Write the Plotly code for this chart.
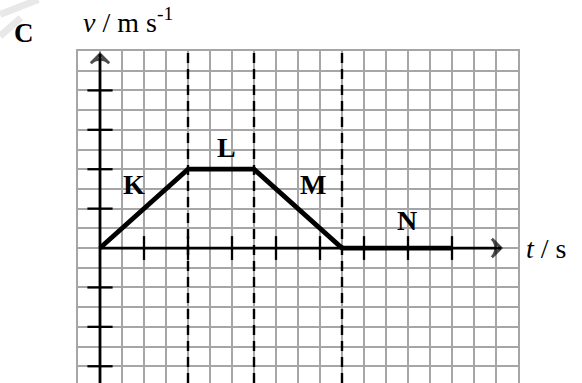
import plotly.graph_objects as go

# velocity-time graph: t and v in grid squares
t_pts = [0, 4, 7, 11, 16]
v_pts = [0, 4, 4, 0, 0]
phase_names = ['K', 'L', 'M', 'N']
phase_x = [1.55, 5.73, 9.66, 13.95]
phase_y = [3.25, 5.1, 3.2, 1.42]
x_ticks = [2, 4, 6, 8, 10, 12, 14, 16]
y_ticks = [-6, -4, -2, 2, 4, 6, 8]
boundaries = [4, 7, 11]
t_axis_end = 18.23
v_axis_ends = [-6.85, 9.85]

serif = 'Liberation Serif'
grid_col = '#a6a6a6'

fig = go.Figure()

# axes, arrow heads at the ends
fig.add_trace(go.Scatter(x=[0, t_axis_end], y=[0, 0], mode='lines+markers',
                         line=dict(color='black', width=2.8),
                         marker=dict(symbol='arrow-wide-open', size=[0, 13], angle=90,
                                     color='black', line=dict(color='black', width=2.8))))
fig.add_trace(go.Scatter(x=[0, 0], y=v_axis_ends, mode='lines+markers',
                         line=dict(color='black', width=2.8),
                         marker=dict(symbol='arrow-wide-open', size=[0, 13], angle=0,
                                     color='black', line=dict(color='black', width=2.8))))

# the v-t line
fig.add_trace(go.Scatter(x=t_pts, y=v_pts, mode='lines',
                         line=dict(color='black', width=4.8), hoverinfo='skip'))

# tick marks on the axes
fig.add_trace(go.Scatter(x=x_ticks, y=[0] * len(x_ticks), mode='markers',
                         marker=dict(symbol='line-ns', size=17, line=dict(color='black', width=2.3))))
fig.add_trace(go.Scatter(x=[0] * len(y_ticks), y=y_ticks, mode='markers',
                         marker=dict(symbol='line-ew', size=18, line=dict(color='black', width=2.3))))

# dashed lines between stages
for b in boundaries:
    fig.add_vline(x=b, line=dict(color='black', width=2.4, dash='10px,6px'))

# stage labels
for name, px, py in zip(phase_names, phase_x, phase_y):
    fig.add_annotation(x=px, y=py, text='<b>%s</b>' % name, showarrow=False,
                       xanchor='center', yanchor='middle',
                       font=dict(family=serif, size=28, color='black'))

# axis titles and panel letter
fig.add_annotation(x=0.006, y=1.093, xref='paper', yref='paper',
                   xanchor='left', yanchor='middle',
                   text='<i>v</i> / m s<sup>-1</sup>', showarrow=False,
                   font=dict(family=serif, size=28, color='black'))
fig.add_annotation(x=1.014, y=0, xref='paper', yref='y',
                   xanchor='left', yanchor='middle',
                   text='<i>t</i> / s', showarrow=False,
                   font=dict(family=serif, size=28, color='black'))
fig.add_annotation(x=-0.15, y=1.054, xref='paper', yref='paper',
                   xanchor='left', yanchor='middle',
                   text='<b>C</b>', showarrow=False,
                   font=dict(family=serif, size=27, color='black'))

# faint watermark stroke in the corner
fig.add_shape(type='path', xref='paper', yref='paper',
              path='M -0.177,1.11 L -0.09,1.155 M -0.177,1.045 L -0.13,1.1',
              line=dict(color='#e8e8e8', width=7))

fig.update_xaxes(range=[-1, 19], dtick=1, tick0=0, showgrid=True, gridcolor=grid_col,
                 gridwidth=1.5, zeroline=False, showticklabels=False, ticks='',
                 showline=True, mirror=True, linecolor=grid_col, linewidth=1.5)
fig.update_yaxes(range=[-6.85, 10], dtick=1, tick0=0, showgrid=True, gridcolor=grid_col,
                 gridwidth=1.5, zeroline=False, showticklabels=False, ticks='',
                 showline=True, mirror=True, linecolor=grid_col, linewidth=1.5)

fig.update_layout(width=582, height=383, margin=dict(l=78, r=64, t=51, b=0),
                  plot_bgcolor='white', paper_bgcolor='white', showlegend=False)

# page body has a default 8px margin, drop it so the figure sits at 0,0
fig.write_html("out.html", config={'displayModeBar': False},
               post_script="document.body.style.margin='0px';")
